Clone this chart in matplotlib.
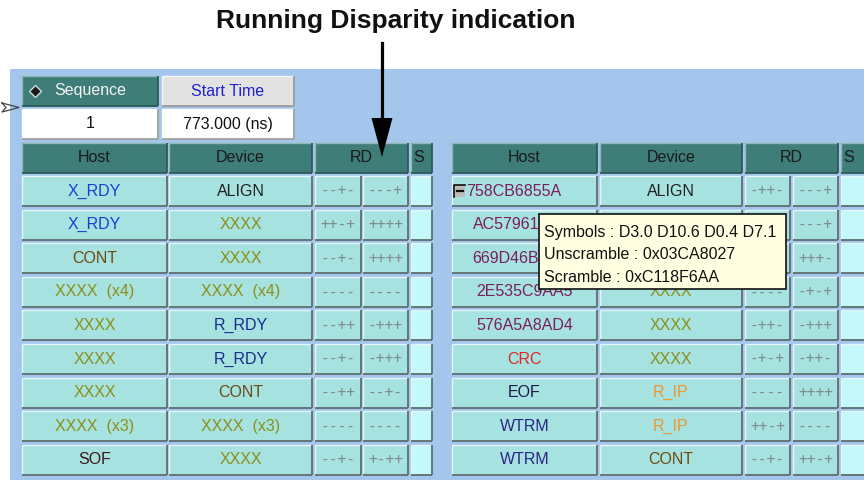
import matplotlib
matplotlib.use('Agg')
import matplotlib.pyplot as plt
from matplotlib.patches import Rectangle, Polygon

# ---- table contents (cells fully hidden by the tooltip are left empty) ----
leftHost = ['X_RDY', 'X_RDY', 'CONT', 'XXXX  (x4)', 'XXXX', 'XXXX', 'XXXX', 'XXXX  (x3)', 'SOF']
leftDevice = ['ALIGN', 'XXXX', 'XXXX', 'XXXX  (x4)', 'R_RDY', 'R_RDY', 'CONT', 'XXXX  (x3)', 'XXXX']
leftRD1 = ['--+-', '++-+', '--+-', '----', '--++', '--+-', '--++', '----', '--+-']
leftRD2 = ['---+', '++++', '++++', '----', '-+++', '-+++', '--+-', '----', '+-++']

rightHost = ['758CB6855A', 'AC57961', '669D46B', '2E535C9AA5', '576A5A8AD4', 'CRC', 'EOF', 'WTRM', 'WTRM']
rightDevice = ['ALIGN', '', '', 'XXXX', 'XXXX', 'XXXX', 'R_IP', 'R_IP', 'CONT']
rightRD1 = ['-++-', '', '', '----', '-++-', '-+-+', '----', '++-+', '--+-']
rightRD2 = ['---+', '---+', '+++-', '-+-+', '-+++', '-++-', '++++', '----', '++-+']

headers = ['Host', 'Device', 'RD', 'S']
seqLabel = 'Sequence'
seqValue = '1'
startLabel = 'Start Time'
startValue = '773.000 (ns)'
tooltipLines = ['Symbols : D3.0 D10.6 D0.4 D7.1', 'Unscramble : 0x03CA8027', 'Scramble : 0xC118F6AA']
title = 'Running Disparity indication'

textColors = {
  'X_RDY': '#1F3BD6', 'CONT': '#6A4A12', 'XXXX': '#8A9018', 'SOF': '#3A1818',
  'ALIGN': '#222222', 'R_RDY': '#1A2D8C', 'CRC': '#E0282A', 'EOF': '#1A1A48',
  'WTRM': '#2C2484', 'R_IP': '#F0962C',
}
hexColor = '#7A1E5E'

def colorFor(s):
  if not s:
    return 'black'
  key = s.split()[0]
  return textColors.get(key, hexColor)

cellFill = '#A6E2E0'
sFill = '#C4F8FA'
headFill = '#3F7D78'
bgBlue = '#A4C6ED'
FONT = 'Liberation Sans'

fig = plt.figure(figsize=(8.64, 4.8), dpi=100)
ax = fig.add_axes([0, 0, 1, 1])
ax.set_xlim(0, 864)
ax.set_ylim(480, 0)
ax.axis('off')

ax.add_patch(Rectangle((10, 69), 860, 420, facecolor=bgBlue, edgecolor='none'))

def cell(x0, x1, y0, y1, fill, light='#E6F6F6', dark='#5E6E6E', z=2):
  ax.add_patch(Rectangle((x0, y0), x1 - x0, y1 - y0, facecolor=fill, edgecolor='none', zorder=z))
  ax.plot([x0, x1], [y0, y0], color=light, lw=1.0, zorder=z + 0.1, solid_capstyle='butt')
  ax.plot([x0, x0], [y0, y1], color=light, lw=1.0, zorder=z + 0.1, solid_capstyle='butt')
  ax.plot([x0, x1], [y1, y1], color=dark, lw=1.3, zorder=z + 0.1, solid_capstyle='butt')
  ax.plot([x1, x1], [y0, y1], color=dark, lw=1.3, zorder=z + 0.1, solid_capstyle='butt')

def label(x, y, s, color, size=11.5, ha='center', family=FONT, z=4):
  if s:
    ax.text(x, y, s, ha=ha, va='center', fontsize=size, color=color, family=family, zorder=z)

# ---- sequence / start time box ----
cell(22, 158, 76, 106, headFill, light='#8FB8B4', dark='#2E5A56')
cell(162, 294, 76, 106, '#E2E2E2', light='#F8F8F8', dark='#9A9A9A')
cell(22, 158, 109, 139, 'white', light='#FFFFFF', dark='#A0A0A0')
cell(162, 294, 109, 139, 'white', light='#FFFFFF', dark='#A0A0A0')
ax.plot([35], [91], marker='D', markersize=6, color='#1C1C1C', markeredgecolor='#C8E0DC', zorder=5)
label(90, 91, seqLabel, '#F4F4F4')
label(228, 91, startLabel, '#2020D0')
label(90, 124, seqValue, '#111111')
label(228, 124, startValue, '#111111')
ax.plot([2, 19, 2, 6, 2], [103, 107.5, 112, 107.5, 103], color='#444444', lw=0.9, zorder=5)

# ---- the two tables ----
rowTop = 176
rowPitch = 33.6
rowH = 30
headTop = 143
headBot = 173
rdSize = 10.5
rdFont = 'DejaVu Sans Mono'
rdColor = '#7F8F8F'

def table(cols, host, device, rd1, rd2, firstBox=False):
  hx0, hx1, dx0, dx1, r1x0, r1x1, r2x0, r2x1, sx0, sx1 = cols
  spans = [(hx0, hx1), (dx0, dx1), (r1x0, r2x1), (sx0, sx1)]
  for (a, b), h in zip(spans, headers):
    cell(a, b, headTop, headBot, headFill, light='#8FB8B4', dark='#2E5A56')
    if h == 'S':
      label(a + 2, (headTop + headBot) / 2, h, '#1A1A1A', ha='left')
    else:
      label((a + b) / 2, (headTop + headBot) / 2, h, '#1A1A1A')
  for i in range(len(host)):
    y0 = rowTop + i * rowPitch
    y1 = y0 + rowH
    yc = (y0 + y1) / 2
    cell(hx0, hx1, y0, y1, cellFill)
    cell(dx0, dx1, y0, y1, cellFill)
    cell(r1x0, r1x1, y0, y1, cellFill)
    cell(r2x0, r2x1, y0, y1, cellFill)
    cell(sx0, sx1, y0, y1, sFill)
    if firstBox and i == 0:
      ax.add_patch(Rectangle((hx0 + 2, yc - 6), 11, 12, facecolor='#BDBDBD', edgecolor='none', zorder=4))
      ax.plot([hx0 + 2, hx0 + 2, hx0 + 13], [yc + 6, yc - 6, yc - 6], color='#111111', lw=1.2, zorder=5)
      ax.plot([hx0 + 5, hx0 + 11], [yc, yc], color='#111111', lw=1.6, zorder=5)
      label(hx0 + 14, yc, host[i], colorFor(host[i]), ha='left')
    elif firstBox and host[i] in ('AC57961', '669D46B'):
      # text cut off by the tooltip
      label(539, yc, host[i], colorFor(host[i]), ha='right')
    else:
      label((hx0 + hx1) / 2, yc, host[i], colorFor(host[i]))
    label((dx0 + dx1) / 2, yc, device[i], colorFor(device[i]))
    label((r1x0 + r1x1) / 2, yc, rd1[i], rdColor, size=rdSize, family=rdFont)
    label((r2x0 + r2x1) / 2, yc, rd2[i], rdColor, size=rdSize, family=rdFont)

table((22, 167, 169, 312, 315, 361, 363, 408, 411, 432), leftHost, leftDevice, leftRD1, leftRD2)
table((452, 597, 600, 742, 745, 790, 793, 838, 841, 868), rightHost, rightDevice, rightRD1, rightRD2, firstBox=True)

# ---- tooltip ----
ax.add_patch(Rectangle((539, 214), 247, 75, facecolor='#FFFFE1', edgecolor='#111111', lw=1.2, zorder=10))
for k, line in enumerate(tooltipLines):
  label(544, 232 + k * 22.5, line, '#111111', ha='left', z=11)

# ---- annotation ----
ax.text(396, 21, title, ha='center', va='center', fontsize=19, fontweight='bold', family=FONT, color='#111111')
ax.plot([382, 382], [43, 122], color='black', lw=2.3, zorder=12)
ax.add_patch(Polygon([(371.5, 118), (392.5, 118), (382, 157)], closed=True, facecolor='black', edgecolor='none', zorder=12))

plt.savefig('out.png', dpi=100)
